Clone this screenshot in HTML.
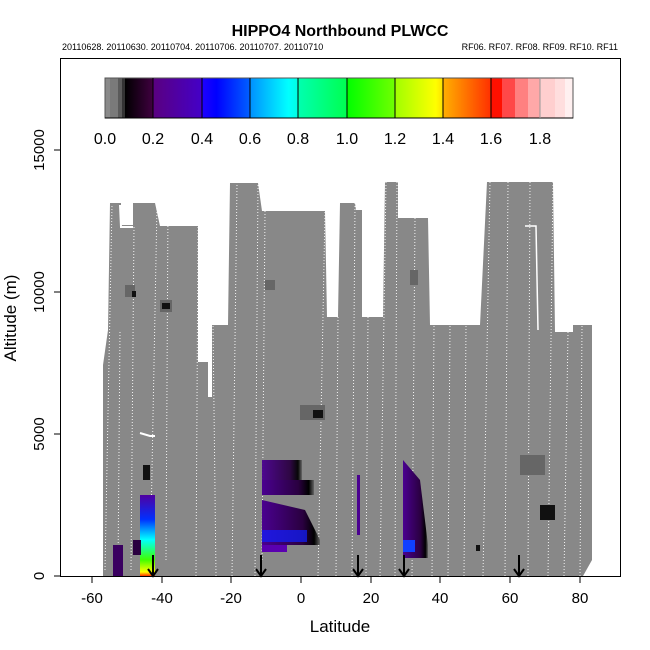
<!DOCTYPE html>
<html><head><style>body{margin:0;background:#fff}svg{display:block}</style></head><body>
<svg width="650" height="650" xmlns="http://www.w3.org/2000/svg" font-family="Liberation Sans, sans-serif">
<defs>
<linearGradient id="v1" x1="0" x2="0" y1="0" y2="1">
<stop offset="0" stop-color="#5000a0"/><stop offset="0.3" stop-color="#0030ff"/><stop offset="0.55" stop-color="#00ffff"/><stop offset="0.8" stop-color="#40ff00"/><stop offset="0.95" stop-color="#ffff00"/><stop offset="1" stop-color="#ff3000"/>
</linearGradient>
<linearGradient id="h1" x1="0" x2="1" y1="0" y2="0">
<stop offset="0" stop-color="#4a0090"/><stop offset="0.7" stop-color="#2a0040"/><stop offset="0.9" stop-color="#000"/><stop offset="1" stop-color="#666"/>
</linearGradient>
<linearGradient id="g1" x1="0" x2="1"><stop offset="0" stop-color="#000"/><stop offset="1" stop-color="#400040"/></linearGradient>
<linearGradient id="g2" x1="0" x2="1"><stop offset="0" stop-color="#5a0080"/><stop offset="1" stop-color="#4400c8"/></linearGradient>
<linearGradient id="g3" x1="0" x2="1"><stop offset="0" stop-color="#2000ff"/><stop offset="0.3" stop-color="#0000ff"/><stop offset="1" stop-color="#0060ff"/></linearGradient>
<linearGradient id="g4" x1="0" x2="1"><stop offset="0" stop-color="#0090ff"/><stop offset="0.8" stop-color="#00ffff"/><stop offset="1" stop-color="#00ffe0"/></linearGradient>
<linearGradient id="g5" x1="0" x2="1"><stop offset="0" stop-color="#00ffb0"/><stop offset="1" stop-color="#00ff50"/></linearGradient>
<linearGradient id="g6" x1="0" x2="1"><stop offset="0" stop-color="#00ff00"/><stop offset="1" stop-color="#70ff00"/></linearGradient>
<linearGradient id="g7" x1="0" x2="1"><stop offset="0" stop-color="#a0ff00"/><stop offset="0.85" stop-color="#ffff00"/><stop offset="1" stop-color="#ffe000"/></linearGradient>
<linearGradient id="g8" x1="0" x2="1"><stop offset="0" stop-color="#ffb000"/><stop offset="1" stop-color="#ff3000"/></linearGradient>
</defs>
<text x="340" y="36" text-anchor="middle" font-size="16" font-weight="bold">HIPPO4 Northbound PLWCC</text>
<text x="62" y="50" font-size="9">20110628. 20110630. 20110704. 20110706. 20110707. 20110710</text>
<text x="618" y="50" font-size="9" text-anchor="end">RF06. RF07. RF08. RF09. RF10. RF11</text>
<rect x="60.5" y="58.5" width="560" height="518" fill="none" stroke="#000"/>
<polygon fill="#888" points="103,576 103,365 108,330 110,203 121,203 121,225 133,225 133,203 155,203 160,226 198,226 198,362 208,362 208,397 212,397 212,325 228,325 230,183 258,183 262,211 325,211 327,317 338,317 340,203 355,203 356,210 362,210 362,317 383,317 385,182 398,182 398,218 428,218 430,325 480,325 487,182 553,182 555,332 573,332 573,325 592,325 592,560 583,576"/>
<g stroke="#fff" stroke-width="1" stroke-dasharray="1,2" opacity="0.9">
<path d="M105,570 L112,205 M118,570 L120,330 M131,570 L134,225 M150,576 L157,205 M166,560 L168,205 M196,576 L198,226 M216,576 L213,325 M232,576 L237,183 M255,576 L258,183 M262,560 L265,211 M318,576 L325,211 M336,576 L338,317 M352,576 L355,203 M366,576 L368,317 M380,576 L386,182 M395,576 L397,182 M412,576 L415,218 M432,576 L434,325 M448,576 L450,325 M464,576 L466,325 M483,576 L490,182 M505,576 L508,182 M528,576 L530,182 M548,576 L553,182 M564,576 L568,332 M580,576 L582,325"/>
</g>
<polyline points="120,205 121,227 133,227" stroke="#fff" stroke-width="2" fill="none"/>
<polyline points="140,433 150,436 155,436" stroke="#fff" stroke-width="2" fill="none"/>
<polyline points="525,226 536,226 538,330" stroke="#fff" stroke-width="1.5" fill="none"/>
<g fill="#666">
<rect x="125" y="285" width="10" height="12"/><rect x="160" y="300" width="12" height="12"/><rect x="265" y="280" width="10" height="10"/>
<rect x="300" y="405" width="25" height="15"/><rect x="410" y="270" width="8" height="15"/><rect x="520" y="455" width="25" height="20"/>
</g>
<g fill="#111">
<rect x="132" y="291" width="4" height="6"/><rect x="162" y="303" width="8" height="6"/><rect x="313" y="410" width="10" height="8"/>
<rect x="540" y="505" width="15" height="15"/><rect x="476" y="545" width="4" height="6"/><rect x="143" y="465" width="7" height="15"/>
</g>
<rect x="140" y="495" width="15" height="81" fill="url(#v1)"/>
<rect x="133" y="540" width="8" height="15" fill="#2a0040"/>
<rect x="113" y="545" width="10" height="31" fill="#3a0060"/>
<rect x="262" y="460" width="40" height="20" fill="url(#h1)" opacity="0.95"/>
<rect x="262" y="480" width="52" height="15" fill="url(#h1)"/>
<polygon points="262,500 305,510 320,540 320,545 262,545" fill="url(#h1)"/>
<rect x="262" y="530" width="45" height="12" fill="#1020ff" opacity="0.7"/>
<rect x="262" y="545" width="25" height="7" fill="#5a00b0"/>
<polygon points="403,460 420,480 428,545 428,558 403,558" fill="url(#h1)"/>
<rect x="403" y="540" width="12" height="12" fill="#1040ff"/>
<rect x="357" y="475" width="3" height="60" fill="#4a0090"/>
<g stroke="#000" stroke-width="2" fill="none">
<path d="M153,555 V576 M148,569 L153,576 L158,569"/>
<path d="M261,555 V576 M256,569 L261,576 L266,569"/>
<path d="M358,555 V576 M353,569 L358,576 L363,569"/>
<path d="M404,555 V576 M399,569 L404,576 L409,569"/>
<path d="M519,555 V576 M514,569 L519,576 L524,569"/>
</g>
<!-- colorbar -->
<g>
<rect x="105" y="78" width="5" height="40" fill="#8a8a8a"/>
<rect x="110" y="78" width="8" height="40" fill="#7a7a7a"/>
<rect x="118" y="78" width="4" height="40" fill="#5a5a5a"/>
<rect x="122" y="78" width="3" height="40" fill="#333"/>
<rect x="125" y="78" width="28" height="40" fill="url(#g1)"/>
<rect x="153" y="78" width="49" height="40" fill="url(#g2)"/>
<rect x="202" y="78" width="48" height="40" fill="url(#g3)"/>
<rect x="250" y="78" width="48" height="40" fill="url(#g4)"/>
<rect x="298" y="78" width="49" height="40" fill="url(#g5)"/>
<rect x="347" y="78" width="48" height="40" fill="url(#g6)"/>
<rect x="395" y="78" width="48" height="40" fill="url(#g7)"/>
<rect x="443" y="78" width="48" height="40" fill="url(#g8)"/>
<rect x="491" y="78" width="11" height="40" fill="#ff1000"/>
<rect x="502" y="78" width="13" height="40" fill="#ff4848"/>
<rect x="515" y="78" width="13" height="40" fill="#ff8080"/>
<rect x="528" y="78" width="12" height="40" fill="#ffa8a8"/>
<rect x="540" y="78" width="15" height="40" fill="#ffcfcf"/>
<rect x="555" y="78" width="10" height="40" fill="#ffdede"/>
<rect x="565" y="78" width="8" height="40" fill="#fff0f0"/>
</g>
<rect x="105" y="78" width="468" height="40" fill="none" stroke="#555"/>
<line x1="105" y1="118" x2="573" y2="118" stroke="#000"/>
<g stroke="#000" stroke-width="1">
<path d="M153,78V118M202,78V118M250,78V118M298,78V118M347,78V118M395,78V118M443,78V118M491,78V118"/>
</g>
<path d="M540,78V118" stroke="#999"/>
<g font-size="16" text-anchor="middle">
<text x="105" y="144">0.0</text><text x="153" y="144">0.2</text><text x="202" y="144">0.4</text><text x="250" y="144">0.6</text><text x="298" y="144">0.8</text><text x="347" y="144">1.0</text><text x="395" y="144">1.2</text><text x="443" y="144">1.4</text><text x="491" y="144">1.6</text><text x="540" y="144">1.8</text>
</g>
<g stroke="#000">
<path d="M92,577V583M162,577V583M231,577V583M301,577V583M371,577V583M440,577V583M510,577V583M580,577V583"/>
<path d="M60,576H54M60,434H54M60,292H54M60,150H54"/>
</g>
<g font-size="15" text-anchor="middle">
<text x="92" y="603">-60</text><text x="162" y="603">-40</text><text x="231" y="603">-20</text><text x="301" y="603">0</text><text x="371" y="603">20</text><text x="440" y="603">40</text><text x="510" y="603">60</text><text x="580" y="603">80</text>
<text transform="translate(44,576) rotate(-90)">0</text>
<text transform="translate(44,434) rotate(-90)">5000</text>
<text transform="translate(44,292) rotate(-90)">10000</text>
<text transform="translate(44,150) rotate(-90)">15000</text>
</g>
<text x="340" y="632" text-anchor="middle" font-size="17">Latitude</text>
<text transform="translate(16,318) rotate(-90)" text-anchor="middle" font-size="17">Altitude (m)</text>
</svg>
</body></html>
